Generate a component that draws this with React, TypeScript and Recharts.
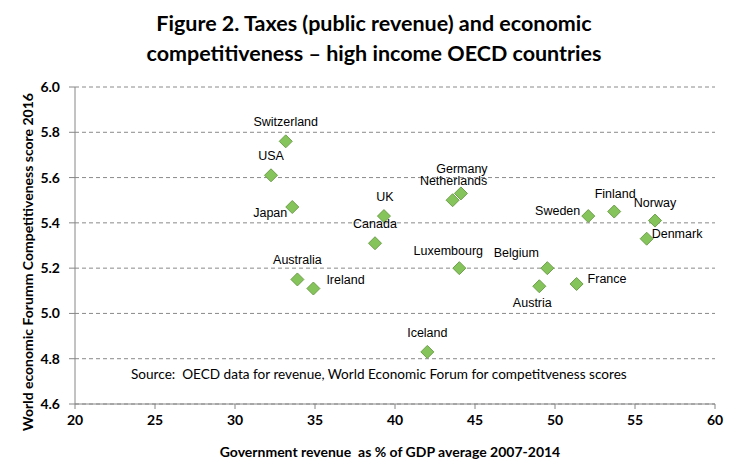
import React from "react";
import { ScatterChart, Scatter, XAxis, YAxis, CartesianGrid } from "recharts";

const countries = [
  "Switzerland", "USA", "Japan", "UK", "Canada", "Australia", "Ireland",
  "Germany", "Netherlands", "Sweden", "Finland", "Norway", "Denmark",
  "Luxembourg", "Belgium", "Austria", "France", "Iceland",
];
const revenue = [
  33.17, 32.25, 33.58, 39.31, 38.75, 33.9, 34.9,
  44.12, 43.6, 52.08, 53.7, 56.25, 55.73,
  44.02, 49.52, 49.02, 51.35, 42.02,
];
const competitiveness = [
  5.76, 5.61, 5.47, 5.43, 5.31, 5.15, 5.11,
  5.53, 5.5, 5.43, 5.45, 5.41, 5.33,
  5.2, 5.2, 5.12, 5.13, 4.83,
];
const xTicks = [20, 25, 30, 35, 40, 45, 50, 55, 60];
const yTicks = [4.6, 4.8, 5.0, 5.2, 5.4, 5.6, 5.8, 6.0];

const title1 = "Figure 2. Taxes (public revenue) and economic";
const title2 = "competitiveness \u2013 high income OECD countries";
const xTitle = "Government revenue  as % of GDP average 2007-2014";
const yTitle = "World economic Forumm Competitiveness score 2016";
const sourceNote = "Source:  OECD data for revenue, World Economic Forum for competitveness scores";

// label placement relative to marker (style only)
const labelPlace: Record<string, { dx: number; dy: number; anchor: "start" | "middle" | "end" }> = {
  Switzerland: { dx: 0, dy: -19, anchor: "middle" },
  USA: { dx: 0, dy: -19, anchor: "middle" },
  Japan: { dx: -5, dy: 6, anchor: "end" },
  UK: { dx: 1, dy: -19, anchor: "middle" },
  Canada: { dx: 0, dy: -19, anchor: "middle" },
  Australia: { dx: 0, dy: -19, anchor: "middle" },
  Ireland: { dx: 13, dy: -9, anchor: "start" },
  Germany: { dx: 1, dy: -24, anchor: "middle" },
  Netherlands: { dx: 1, dy: -19, anchor: "middle" },
  Sweden: { dx: -8, dy: -5, anchor: "end" },
  Finland: { dx: 1, dy: -18, anchor: "middle" },
  Norway: { dx: 0, dy: -18, anchor: "middle" },
  Denmark: { dx: 5, dy: -5, anchor: "start" },
  Luxembourg: { dx: -11, dy: -17, anchor: "middle" },
  Belgium: { dx: -31, dy: -15, anchor: "middle" },
  Austria: { dx: -7, dy: 17, anchor: "middle" },
  France: { dx: 11, dy: -5, anchor: "start" },
  Iceland: { dx: 0, dy: -19, anchor: "middle" },
};

const data = countries.map((name, i) => ({ name, x: revenue[i], y: competitiveness[i] }));

const Diamond = (props: any) => {
  const { cx, cy, payload } = props;
  if (cx == null || cy == null) return null;
  const r = 6.5;
  const p = labelPlace[payload.name] || { dx: 0, dy: -19, anchor: "middle" };
  return (
    <g>
      <polygon
        points={`${cx},${cy - r} ${cx + r},${cy} ${cx},${cy + r} ${cx - r},${cy}`}
        fill="#85C45A"
        stroke="#6E9F4C"
        strokeWidth={1}
      />
      <text
        x={cx + p.dx}
        y={cy + p.dy}
        textAnchor={p.anchor}
        dominantBaseline="central"
        fontFamily="'Liberation Sans', Arial, sans-serif"
        fontSize={12.5}
        fill="#000"
      >
        {payload.name}
      </text>
    </g>
  );
};

const pre: React.CSSProperties = { whiteSpace: "pre" };

export default function App() {
  return (
    <div style={{ position: "absolute", left: 0, top: 0, width: 738, height: 474, background: "#fff", fontFamily: "Lato, sans-serif" }}>
      <svg width={738} height={474} style={{ position: "absolute", left: 0, top: 0 }}>
        <text x={374} y={23} textAnchor="middle" dominantBaseline="central" fontFamily="Lato, sans-serif" fontWeight="bold" fontSize={21.5} fill="#000">{title1}</text>
        <text x={374} y={53} textAnchor="middle" dominantBaseline="central" fontFamily="Lato, sans-serif" fontWeight="bold" fontSize={21.5} fill="#000">{title2}</text>
        <text x={390} y={451} textAnchor="middle" dominantBaseline="central" fontFamily="Lato, sans-serif" fontWeight="bold" fontSize={14} fill="#000" style={pre}>{xTitle}</text>
        <text x={27} y={262} textAnchor="middle" dominantBaseline="central" fontFamily="Lato, sans-serif" fontWeight="bold" fontSize={14} fill="#000" transform="rotate(-90 27 262)">{yTitle}</text>
        <text x={131} y={374} textAnchor="start" dominantBaseline="central" fontFamily="Lato, sans-serif" fontSize={13.6} fill="#000" style={pre}>{sourceNote}</text>
      </svg>
      <div style={{ position: "absolute", left: 0, top: 0 }}>
        <ScatterChart width={738} height={474} margin={{ top: 87, right: 23, bottom: 0, left: 0 }}>
          <CartesianGrid horizontal={true} vertical={false} stroke="#8a8a8a" strokeDasharray="4 3" />
          <XAxis
            type="number"
            dataKey="x"
            domain={[20, 60]}
            ticks={xTicks}
            interval={0}
            tickLine={{ stroke: "#868686" }}
            axisLine={{ stroke: "#868686" }}
            tickSize={5}
            tickMargin={6}
            tick={{ fill: "#000", fontSize: 14, fontWeight: "bold", fontFamily: "Lato, sans-serif" }}
            height={70}
          />
          <YAxis
            type="number"
            dataKey="y"
            domain={[4.6, 6.0]}
            ticks={yTicks}
            interval={0}
            tickFormatter={(v: number) => v.toFixed(1)}
            tickLine={{ stroke: "#868686" }}
            axisLine={{ stroke: "#868686" }}
            tickSize={6}
            tickMargin={9}
            tick={{ fill: "#000", fontSize: 14, fontWeight: "bold", fontFamily: "Lato, sans-serif" }}
            width={75}
          />
          <Scatter data={data} shape={Diamond} isAnimationActive={false} />
        </ScatterChart>
      </div>
    </div>
  );
}
